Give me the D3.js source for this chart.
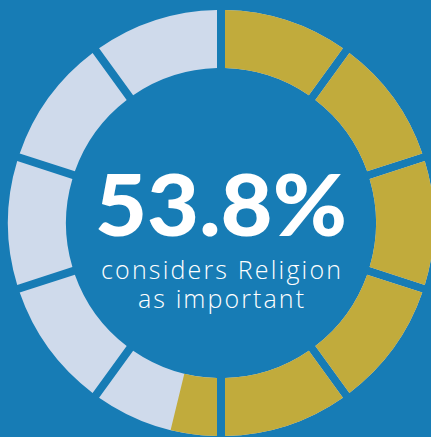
<!DOCTYPE html>
<html lang="en">
<head>
	<meta charset="UTF-8">
	<title>Religion donut</title>
	<script type="text/javascript" src="https://cdn.jsdelivr.net/npm/d3@7/dist/d3.min.js"></script>
	<style>
		body {
			margin: 0;
			background: #177cb5;
		}
		svg text {
			fill: #fff;
		}
	</style>
</head>
<body>
<div id="chart"></div>
<script type="text/javascript">
	// values
	var share = [53.8];
	var segments = d3.range(10);
	var headline = ['53.8%'];
	var captions = ['considers Religion', 'as important'];

	var width = 431, height = 437;
	var cx = 221, cy = 223;
	var outer = 213, inner = 155;

	var svg = d3.select('#chart')
		.append('svg')
		.attr('width', width)
		.attr('height', height);

	svg.append('rect')
		.attr('width', width)
		.attr('height', height)
		.style('fill', '#177cb5');

	var g = svg.append('g')
		.attr('transform', 'translate(' + cx + ',' + cy + ')');

	var angle = d3.scaleLinear()
		.domain([0, segments.length])
		.range([0, 2 * Math.PI]);

	var pct = d3.scaleLinear()
		.domain([0, 100])
		.range([0, 2 * Math.PI]);

	var arc = d3.arc()
		.innerRadius(inner)
		.outerRadius(outer)
		.padRadius(200)
		.padAngle(0.04);

	// clip for the filled part
	g.append('clipPath')
		.attr('id', 'filled')
		.append('path')
		.attr('d', d3.arc()
			.innerRadius(0)
			.outerRadius(outer + 20)
			.startAngle(0)
			.endAngle(pct(share[0]))());

	g.selectAll('.seg')
		.data(segments)
		.enter().append('path')
		.attr('class', 'seg')
		.attr('d', function (d) {
			return arc({startAngle: angle(d), endAngle: angle(d + 1)});
		})
		.style('fill', '#cfdaeb');

	g.append('g')
		.attr('clip-path', 'url(#filled)')
		.selectAll('.seg-on')
		.data(segments)
		.enter().append('path')
		.attr('class', 'seg-on')
		.attr('d', function (d) {
			return arc({startAngle: angle(d), endAngle: angle(d + 1)});
		})
		.style('fill', '#c1ab3c');

	g.append('text')
		.attr('x', 0)
		.attr('y', 13)
		.attr('text-anchor', 'middle')
		.attr('font-family', 'Lato')
		.attr('font-weight', 900)
		.attr('font-size', 86)
		.attr('textLength', 252)
		.attr('lengthAdjust', 'spacingAndGlyphs')
		.text(headline[0]);

	var capWidth = [240, 166];

	g.selectAll('.caption')
		.data(captions)
		.enter().append('text')
		.attr('class', 'caption')
		.attr('x', 0)
		.attr('y', function (d, i) {
			return 56 + i * 29;
		})
		.attr('text-anchor', 'middle')
		.attr('font-family', 'Open Sans')
		.attr('font-weight', 300)
		.attr('font-size', 25)
		.attr('textLength', function (d, i) {
			return capWidth[i];
		})
		.attr('lengthAdjust', 'spacing')
		.text(function (d) {
			return d;
		});
</script>
</body>
</html>
